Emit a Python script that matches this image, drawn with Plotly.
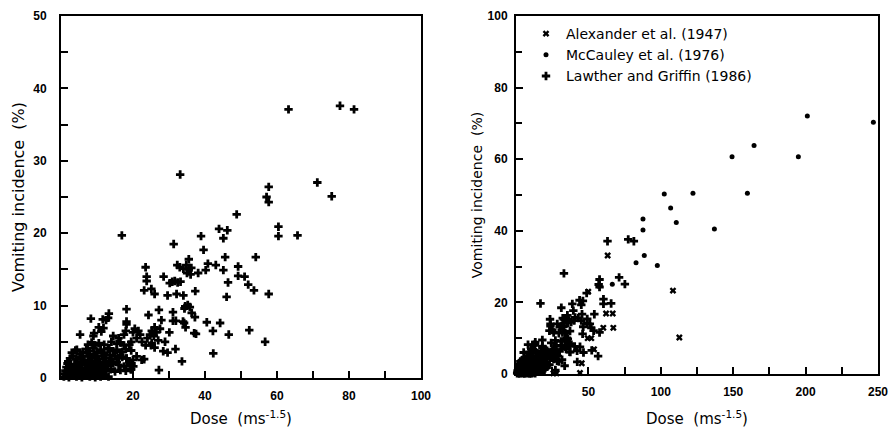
import plotly.graph_objects as go

# ---------------- data ----------------
# Lawther and Griffin (1986): dose (ms^-1.5) vs vomiting incidence (%)
LG_DOSE = [
    63.2, 77.5, 81.4, 33.1, 71.2, 75.2, 57.7, 57.1, 57.7, 48.8, 60.4, 60.4, 65.7, 16.9,
    43.9, 46.2, 45.1, 38.9, 39.6, 31.3, 35.5, 45.6, 54.1, 40.8, 43.0, 40.2, 45.1, 49.2,
    49.2, 51.0, 52.0, 53.6, 46.4, 46.0, 57.7,
    23.5, 23.8, 23.8, 23.1, 25.1, 26.0, 28.5, 30.2, 30.9, 31.6, 32.4, 33.2, 32.3, 33.0,
    34.0, 34.8, 35.5, 35.0, 36.2, 36.0, 38.1, 37.3, 29.6, 32.1, 34.0, 34.5, 35.2, 35.8, 34.3,
    24.3, 27.2, 27.9, 31.1, 31.1, 31.9, 33.9, 34.6, 34.2, 36.3, 37.2, 40.5, 44.2, 42.2,
    37.5, 37.0, 46.6, 52.3, 56.7, 42.3, 33.6, 27.2, 31.8, 29.6, 28.9, 30.1, 28.4,
    24.7, 25.2, 25.8, 26.5, 27.5, 26.0, 24.0, 23.5, 25.0, 26.0, 27.0, 23.1, 22.5, 22.0,
    21.5, 21.0, 20.5, 20.0, 19.5, 20.1, 19.4, 21.0, 22.4, 25.2, 13.4, 18.2, 19.6,
    8.3, 11.6, 13.3, 13.1, 18.2, 18.2, 18.2, 12.5, 10.5, 5.3, 9.2, 11.2, 11.8, 14.5,
    16.0, 17.5, 18.0, 9.0,
    7.5, 8.5, 9.5, 10.5, 12.0, 14.0, 15.5, 16.5, 17.5, 19.0, 4.4,
    3.0, 4.0, 6.0, 7.0, 8.0, 9.0, 10.0, 11.0, 12.0, 13.0, 14.5, 15.5, 17.0, 18.0, 19.5,
    2.5, 3.3, 4.2, 5.5, 6.5, 7.5, 8.5, 9.5, 10.5, 11.5, 12.5, 14.0, 15.0, 16.0, 17.0,
    18.2, 20.0,
    1.8, 2.6, 3.8, 4.8, 5.8, 6.8, 7.8, 8.8, 9.8, 10.8, 11.8, 13.0, 14.5, 16.0, 17.5, 19.0,
    1.2, 2.0, 2.8, 3.5, 4.5, 5.5, 6.3, 7.0, 8.2, 9.0, 10.0, 11.2, 12.5, 13.8, 15.0, 16.5,
    18.0, 19.5,
    0.8, 1.5, 2.2, 3.0, 3.6, 4.3, 5.0, 5.8, 6.5, 7.3, 8.0, 8.8, 9.5, 10.3, 11.0, 12.0, 13.2,
    1.0, 2.4, 4.0, 6.0, 7.6, 9.3, 11.5, 1.5, 3.2, 5.0, 6.6, 8.4, 10.4, 12.2, 2.0, 4.6,
    6.2, 8.0, 10.0, 12.0, 13.5, 15.5, 5.2, 7.2, 9.2, 11.3, 13.6, 16.5,
]
LG_VOMIT = [
    37.1, 37.6, 37.1, 28.1, 27.0, 25.1, 26.4, 25.0, 24.3, 22.6, 20.9, 19.6, 19.7, 19.7,
    20.6, 20.4, 19.3, 19.6, 17.7, 18.5, 16.4, 16.7, 16.7, 15.8, 15.6, 14.9, 14.9, 15.4,
    14.1, 14.0, 12.9, 12.1, 13.2, 11.2, 11.6,
    15.3, 14.0, 13.4, 12.1, 12.3, 11.6, 14.0, 13.1, 13.3, 13.4, 13.2, 13.3, 15.6, 15.3,
    15.1, 15.6, 15.0, 14.5, 15.2, 14.3, 14.5, 12.0, 11.4, 11.6, 11.4, 9.9, 10.1, 9.8, 9.6,
    8.7, 9.4, 8.0, 9.1, 7.9, 7.9, 7.8, 7.0, 7.6, 9.0, 8.4, 7.7, 7.6, 6.5,
    6.1, 6.2, 6.0, 6.6, 5.0, 3.4, 2.3, 1.1, 4.0, 3.5, 5.0, 6.3, 3.7,
    6.0, 6.5, 5.8, 6.3, 6.8, 7.0, 5.5, 4.5, 4.5, 4.2, 5.2, 2.6, 5.0, 6.0,
    6.5, 5.5, 6.8, 6.3, 5.0, 1.6, 1.2, 3.0, 2.5, 4.8, 4.1, 2.7, 2.0,
    8.2, 8.1, 8.9, 8.3, 9.5, 7.8, 7.4, 8.0, 7.0, 6.0, 6.2, 6.4, 6.9, 5.8,
    5.5, 6.0, 6.5, 5.8,
    4.6, 4.9, 4.5, 4.8, 4.6, 5.0, 4.7, 4.9, 4.5, 4.6, 3.9,
    3.5, 3.8, 3.6, 4.0, 3.7, 4.1, 3.6, 3.9, 3.5, 4.0, 3.7, 3.9, 3.6, 4.0, 3.8,
    2.7, 3.0, 2.6, 2.9, 2.5, 3.0, 2.7, 2.9, 2.6, 3.0, 2.8, 2.6, 3.0, 2.7, 2.9,
    2.7, 2.5,
    2.0, 1.7, 1.9, 1.6, 2.0, 1.8, 2.1, 1.7, 2.0, 1.6, 1.9, 1.7, 2.0, 1.8, 1.6, 2.0,
    1.0, 1.2, 0.9, 1.1, 1.0, 1.3, 0.9, 1.2, 1.0, 1.3, 0.9, 1.1, 1.0, 1.2, 0.9, 1.1,
    1.0, 1.2,
    0.2, 0.4, 0.1, 0.3, 0.5, 0.2, 0.4, 0.1, 0.3, 0.5, 0.2, 0.4, 0.1, 0.3, 0.2, 0.4, 0.2,
    0.6, 0.7, 0.6, 0.7, 0.6, 0.7, 0.6, 1.5, 1.4, 1.5, 1.4, 1.5, 1.4, 1.4, 2.3, 2.2,
    2.3, 2.4, 2.3, 2.2, 2.3, 2.2, 3.3, 3.4, 3.3, 3.4, 3.2, 3.2,
]

# Alexander et al. (1947)
AL_DOSE = [108.4, 112.8, 63.3, 49.9, 60.3, 62.2, 66.8, 67.2, 53.9, 49.5, 52.0, 45.4,
           44.2, 25.8, 28.0, 3.0, 6.5, 10.0]
AL_VOMIT = [23.3, 10.2, 33.1, 23.0, 12.9, 16.9, 16.9, 12.9, 6.9, 10.0, 10.0, 3.0,
            0.3, 0.2, 0.2, 0.2, 0.3, 0.2]

# McCauley et al. (1976)
MC_DOSE = [246.8, 201.2, 164.4, 149.2, 195.0, 159.8, 122.2, 102.4, 106.8, 110.7, 137.0,
           87.7, 87.7, 88.6, 82.9, 97.6, 66.5]
MC_VOMIT = [70.3, 72.1, 63.8, 60.7, 60.7, 50.5, 50.5, 50.3, 46.4, 42.3, 40.5,
            43.3, 40.2, 33.1, 31.1, 30.3, 25.1]

LEFT_X_TICKS = [20, 40, 60, 80, 100]
LEFT_Y_TICKS = [0, 10, 20, 30, 40, 50]
RIGHT_X_TICKS = [50, 100, 150, 200, 250]
RIGHT_Y_TICKS = [0, 20, 40, 60, 80, 100]

NAMES = ["Alexander et al. (1947)", "McCauley et al. (1976)", "Lawther and Griffin (1986)"]
X_TITLE = "Dose  (ms<sup>-1.5</sup>)"
Y_TITLE = "Vomiting incidence  (%)"

# ---------------- figure ----------------
W, H = 889, 428
fig = go.Figure()

fig.add_trace(go.Scatter(
    x=LG_DOSE, y=LG_VOMIT, mode="markers", xaxis="x", yaxis="y", showlegend=False,
    marker=dict(symbol="cross", size=7, color="black", line=dict(width=0)),
    cliponaxis=False, name=NAMES[2]))

fig.add_trace(go.Scatter(
    x=AL_DOSE, y=AL_VOMIT, mode="markers", xaxis="x2", yaxis="y2", name=NAMES[0],
    marker=dict(symbol="x", size=6, color="black", line=dict(width=0)),
    cliponaxis=False))
fig.add_trace(go.Scatter(
    x=MC_DOSE, y=MC_VOMIT, mode="markers", xaxis="x2", yaxis="y2", name=NAMES[1],
    marker=dict(symbol="circle", size=5, color="black"),
    cliponaxis=False))
fig.add_trace(go.Scatter(
    x=LG_DOSE, y=LG_VOMIT, mode="markers", xaxis="x2", yaxis="y2", name=NAMES[2],
    marker=dict(symbol="cross", size=7, color="black", line=dict(width=0)),
    cliponaxis=False))

tickfont = dict(family="Liberation Sans", size=12, color="black")
common = dict(showline=True, mirror=True, linecolor="black", linewidth=2, showgrid=False,
              zeroline=False, ticks="inside", ticklen=7, tickwidth=1.5, tickcolor="black",
              tickfont=tickfont, tickmode="array", automargin=False)


def bold(vals):
    return ["<b>%d</b>" % v for v in vals]


def title(text, size, standoff):
    return dict(text=text, font=dict(family="DejaVu Sans", size=size, color="black"),
                standoff=standoff)


def minor(dt, ln=7):
    return dict(dtick=dt, ticks="inside", ticklen=ln, tickwidth=1.5, tickcolor="black")


fig.update_layout(
    width=W, height=H, margin=dict(l=0, r=0, t=0, b=0, autoexpand=False),
    paper_bgcolor="white", plot_bgcolor="white",
    xaxis=dict(domain=[61 / W, 421 / W], range=[0, 100],
               tickvals=LEFT_X_TICKS, ticktext=bold(LEFT_X_TICKS), ticklabelstandoff=6,
               minor=minor(10), title=title(X_TITLE, 15, 19), anchor="y", **common),
    yaxis=dict(domain=[1 - 378 / H, 1 - 16 / H], range=[0, 50],
               tickvals=LEFT_Y_TICKS, ticktext=bold(LEFT_Y_TICKS), ticklabelstandoff=10,
               minor=minor(5), title=title(Y_TITLE, 16, 5), anchor="x", **common),
    xaxis2=dict(domain=[516 / W, 878 / W], range=[0, 250],
                tickvals=RIGHT_X_TICKS, ticktext=bold(RIGHT_X_TICKS), ticklabelstandoff=6,
                minor=minor(25), title=title(X_TITLE, 15, 15), anchor="y2", **common),
    yaxis2=dict(domain=[1 - 374 / H, 1 - 16 / H], range=[0, 100],
                tickvals=RIGHT_Y_TICKS, ticktext=bold(RIGHT_Y_TICKS), ticklabelstandoff=4,
                minor=minor(10, 6), title=title(Y_TITLE, 14, 2), anchor="x2", **common),
    legend=dict(x=526 / W, y=1 - 18 / H, xanchor="left", yanchor="top",
                bgcolor="rgba(0,0,0,0)", borderwidth=0, tracegroupgap=0,
                font=dict(family="DejaVu Sans", size=14, color="black")),
)

fig.write_html("out.html", config={"displayModeBar": False},
               post_script="document.body.style.margin='0';document.body.style.overflow='hidden';")
